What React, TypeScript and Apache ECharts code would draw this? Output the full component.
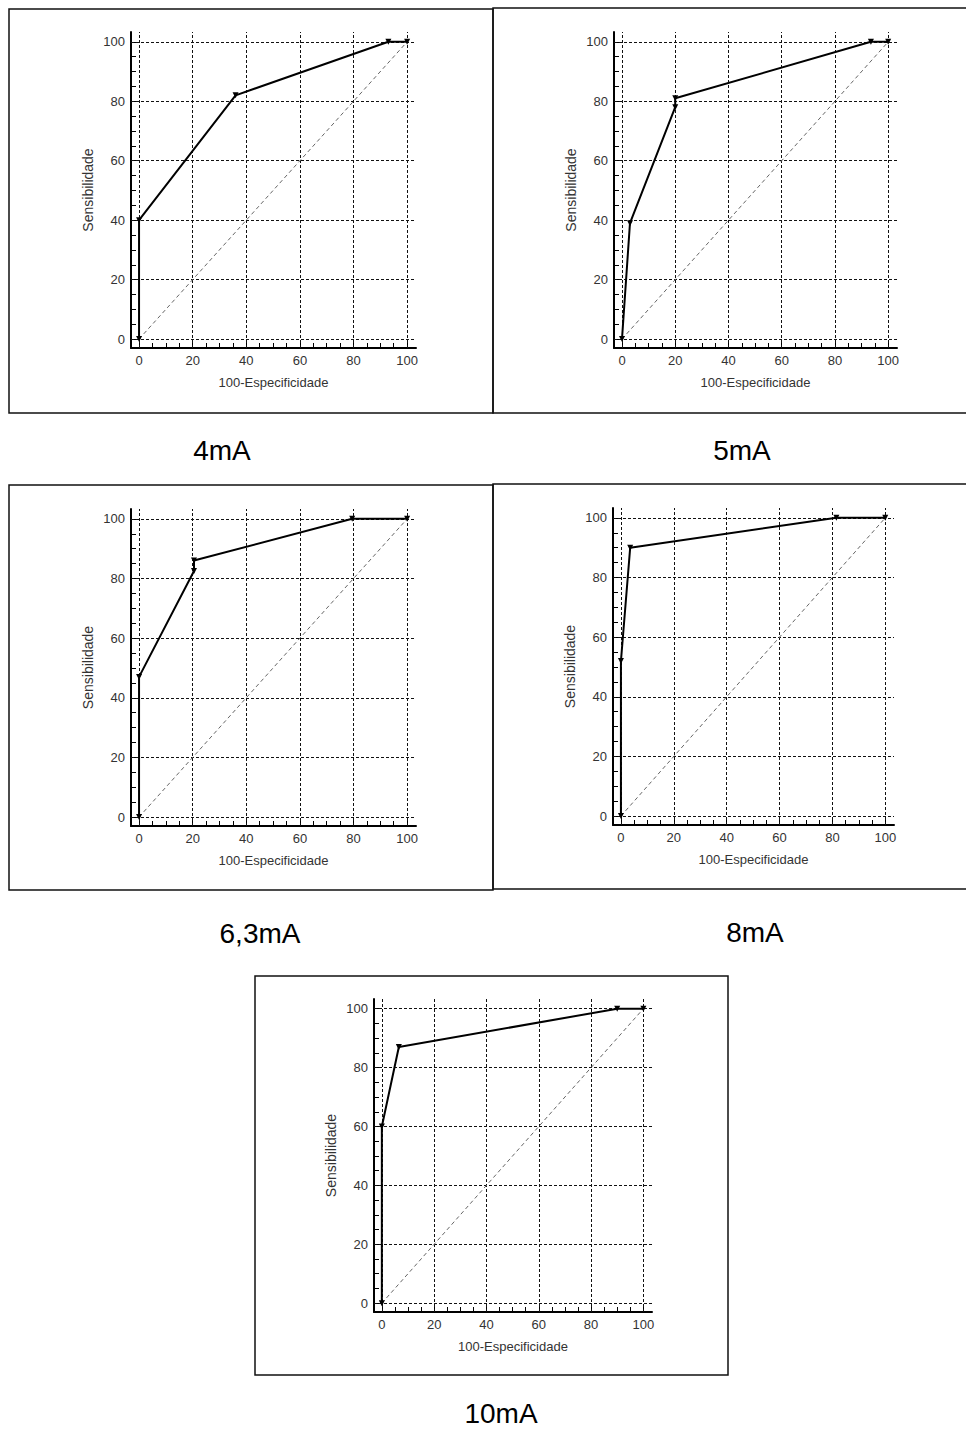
import React, { useEffect, useRef } from "react";
import * as echarts from "echarts";

// ---- data ----
const panelTitles = ["4mA", "5mA", "6,3mA", "8mA", "10mA"];

const fpr4 = [0, 0, 36, 93, 100];
const sens4 = [0, 40, 82, 100, 100];

const fpr5 = [0, 3, 20, 20, 93.5, 100];
const sens5 = [0, 39, 78, 81, 100, 100];

const fpr63 = [0, 0, 20.5, 20.5, 79.5, 100];
const sens63 = [0, 47, 82.5, 86, 100, 100];

const fpr8 = [0, 0, 3.5, 81.5, 100];
const sens8 = [0, 52, 90, 100, 100];

const fpr10 = [0, 0, 6.5, 90, 100];
const sens10 = [0, 60, 87, 100, 100];

const diagonalX = [0, 100];
const diagonalY = [0, 100];

const majorTicks = [0, 20, 40, 60, 80, 100];
const minorTicks = [0, 5, 10, 15, 20, 25, 30, 35, 40, 45, 50, 55, 60, 65, 70, 75, 80, 85, 90, 95, 100];

const xName = "100-Especificidade";
const yName = "Sensibilidade";

// ---- layout ----
const grids = [
  { left: 131, top: 32, width: 285, height: 316 },
  { left: 614, top: 32, width: 283, height: 316 },
  { left: 131, top: 509, width: 285, height: 317 },
  { left: 613, top: 508, width: 281, height: 317 },
  { left: 374, top: 999, width: 278, height: 313 },
];
const frames = [
  { x: 9, y: 9, width: 484, height: 404 },
  { x: 493, y: 8, width: 480, height: 405 },
  { x: 9, y: 485, width: 484, height: 405 },
  { x: 493, y: 484, width: 480, height: 405 },
  { x: 255, y: 976, width: 473, height: 399 },
];
const captionPos = [
  [222, 450],
  [742, 450],
  [260, 933],
  [755, 932],
  [501, 1413],
];

const curves = [
  [fpr4, sens4],
  [fpr5, sens5],
  [fpr63, sens63],
  [fpr8, sens8],
  [fpr10, sens10],
];

const FONT = "Liberation Sans";
const AX_MIN = -3;
const AX_MAX = 103.3;

function axisCommon(i: number) {
  return {
    gridIndex: i,
    type: "value",
    min: AX_MIN,
    max: AX_MAX,
    axisLine: { show: true, onZero: false, lineStyle: { color: "#000", width: 2 } },
    axisTick: {
      show: true,
      inside: true,
      length: 5,
      customValues: minorTicks,
      lineStyle: { color: "#000", width: 1 },
    },
    axisLabel: {
      show: true,
      customValues: majorTicks,
      color: "#333",
      fontSize: 13,
      fontFamily: FONT,
      margin: 6,
    },
    splitLine: { show: false },
    nameLocation: "middle",
  };
}

export default function App() {
  const ref = useRef<HTMLDivElement>(null);

  useEffect(() => {
    if (!ref.current) return;
    const chart = echarts.init(ref.current, null, { renderer: "svg" });

    const xAxes = grids.map((_, i) => ({
      ...axisCommon(i),
      name: xName,
      nameGap: 28,
      nameTextStyle: { color: "#333", fontSize: 13, fontFamily: FONT },
    }));
    const yAxes = grids.map((_, i) => ({
      ...axisCommon(i),
      name: yName,
      nameGap: 36,
      nameRotate: 90,
      nameTextStyle: { color: "#333", fontSize: 14, fontFamily: FONT },
    }));

    const series: any[] = [];
    grids.forEach((_, i) => {
      // diagonal + grid lines
      series.push({
        type: "line",
        xAxisIndex: i,
        yAxisIndex: i,
        data: diagonalX.map((x, k) => [x, diagonalY[k]]),
        symbol: "none",
        silent: true,
        z: 2,
        lineStyle: { color: "#666", width: 1, type: [4, 3] },
        markLine: {
          silent: true,
          symbol: ["none", "none"],
          label: { show: false },
          lineStyle: { color: "#111", width: 1, type: [3, 2] },
          data: [
            ...majorTicks.map((v) => ({ xAxis: v })),
            ...majorTicks.map((v) => ({ yAxis: v })),
          ],
          z: 1,
        },
      });
      const [xs, ys] = curves[i];
      series.push({
        type: "line",
        xAxisIndex: i,
        yAxisIndex: i,
        data: xs.map((x, k) => [x, ys[k]]),
        symbol: "triangle",
        symbolRotate: 180,
        symbolSize: 6,
        z: 5,
        itemStyle: { color: "#000" },
        lineStyle: { color: "#000", width: 2 },
      });
    });

    const graphic: any[] = [];
    frames.forEach((f) => {
      graphic.push({
        type: "rect",
        shape: { x: f.x, y: f.y, width: f.width, height: f.height },
        style: { fill: "none", stroke: "#111", lineWidth: 1.5 },
        silent: true,
      });
    });
    panelTitles.forEach((t, i) => {
      graphic.push({
        type: "text",
        x: captionPos[i][0],
        y: captionPos[i][1],
        style: {
          text: t,
          fontSize: 28,
          fontFamily: FONT,
          fill: "#000",
          align: "center",
          verticalAlign: "middle",
        },
        silent: true,
      });
    });

    chart.setOption({
      animation: false,
      backgroundColor: "#fff",
      grid: grids.map((g) => ({ ...g, containLabel: false })),
      xAxis: xAxes,
      yAxis: yAxes,
      series,
      graphic,
    });

    return () => chart.dispose();
  }, []);

  return (
    <div
      ref={ref}
      style={{ position: "absolute", left: 0, top: 0, width: 966, height: 1430 }}
    />
  );
}
